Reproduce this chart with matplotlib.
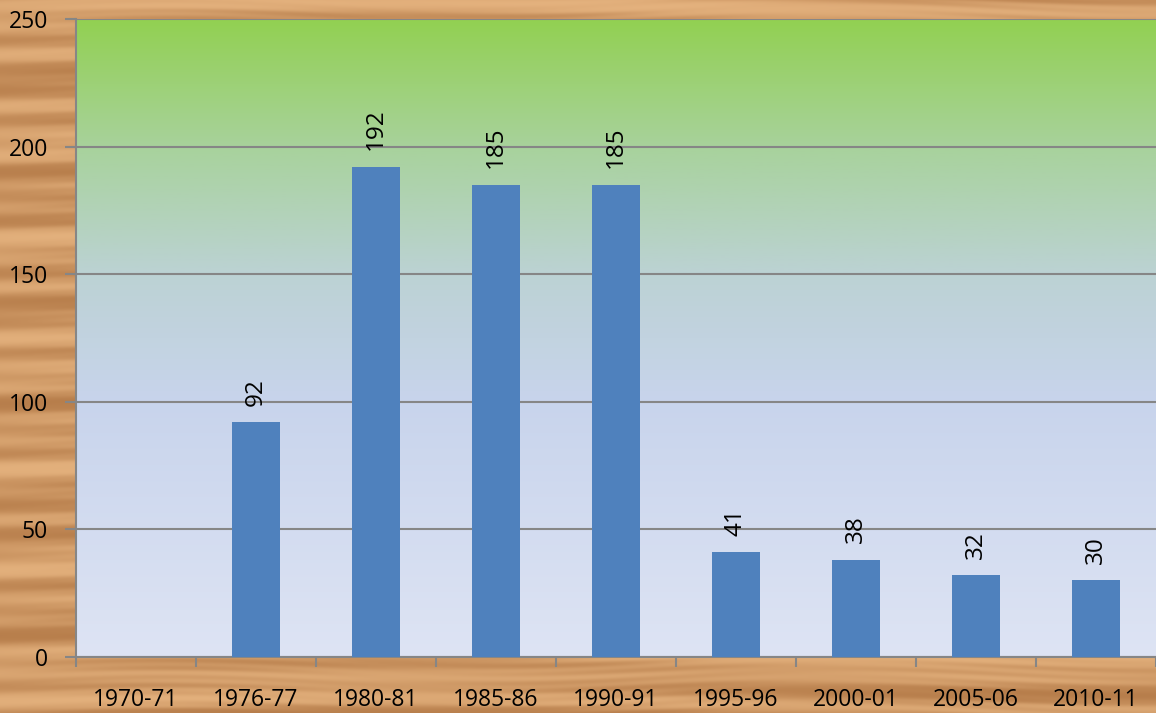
import numpy as np
import matplotlib.pyplot as plt
from matplotlib.colors import LinearSegmentedColormap

categories = ['1970-71', '1976-77', '1980-81', '1985-86', '1990-91',
              '1995-96', '2000-01', '2005-06', '2010-11']
values = [0, 92, 192, 185, 185, 41, 38, 32, 30]
labels = ['', '92', '192', '185', '185', '41', '38', '32', '30']

plt.rcParams['font.family'] = ['Open Sans', 'DejaVu Sans']

fig = plt.figure(figsize=(11.56, 7.13), dpi=100)

# wood-like background (deterministic streaks)
bg = fig.add_axes([0, 0, 1, 1], zorder=-10)
yy = np.linspace(0, 1, 713)[:, None]
xx = np.linspace(0, 1, 1156)[None, :]
streak = (0.30 * np.sin(yy * 97 + 1.5 * np.sin(xx * 5)) +
          0.30 * np.sin(yy * 173 + 1.2 * np.sin(xx * 3 + 1)) +
          0.25 * np.sin(yy * 41 + xx * 2) +
          0.15 * np.sin(yy * 530 + 4 * np.sin(xx * 11)) * np.sin(xx * 9))
shade = 0.62 + 0.38 * np.tanh(streak * 1.6)
base = np.array([230, 180, 128]) / 255
dark = np.array([165, 105, 55]) / 255
tex = base[None, None, :] * shade[..., None] + dark[None, None, :] * (1 - shade[..., None])
bg.imshow(tex, aspect='auto', extent=[0, 1, 0, 1])
bg.axis('off')

ax = fig.add_axes([76 / 1156, 1 - 657 / 713, 1080 / 1156, 638 / 713])

# plot-area gradient
grad = LinearSegmentedColormap.from_list('plotbg', [
    (0.0, (222 / 255, 228 / 255, 244 / 255)),
    (0.4, (200 / 255, 212 / 255, 236 / 255)),
    (0.6, (188 / 255, 210 / 255, 212 / 255)),
    (0.8, (168 / 255, 210 / 255, 156 / 255)),
    (1.0, (146 / 255, 208 / 255, 82 / 255)),
])
ax.imshow(np.linspace(0, 1, 256)[:, None], cmap=grad, origin='lower',
          aspect='auto', extent=[-0.5, len(categories) - 0.5, 0, 250], zorder=0)

x = np.arange(len(categories))
ax.bar(x, values, width=0.4, color='#4F81BD', zorder=3)
for xi, v, lab in zip(x, values, labels):
    if lab:
        ax.annotate(lab, (xi, v), xytext=(0, 12), textcoords='offset points',
                    rotation=90, ha='center', va='bottom', fontsize=17.5)

ax.set_xlim(-0.5, len(categories) - 0.5)
ax.set_ylim(0, 250)
ax.set_yticks(np.arange(0, 251, 50))
ax.yaxis.grid(True, color='#868686', linewidth=1.5, zorder=1)
ax.set_axisbelow(False)
ax.set_xticks(x)
ax.set_xticklabels(categories, fontsize=16.5)
ax.set_xticks(np.arange(-0.5, len(categories), 1), minor=True)
ax.tick_params(axis='x', which='major', length=0, pad=22)
ax.tick_params(axis='x', which='minor', length=7, width=1.5, color='#868686', direction='out')
ax.tick_params(axis='y', length=8, width=1.5, color='#868686', labelsize=16.5, pad=12)
for s in ['top', 'right']:
    ax.spines[s].set_visible(False)
for s in ['left', 'bottom']:
    ax.spines[s].set_color('#868686')
    ax.spines[s].set_linewidth(1.5)

fig.savefig('out.png', dpi=100)
